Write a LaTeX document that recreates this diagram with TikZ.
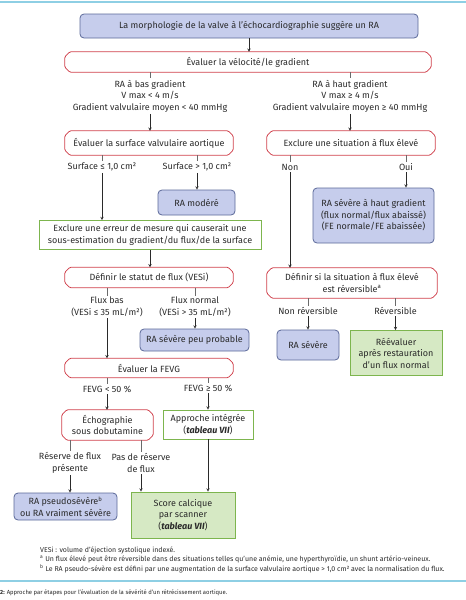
\documentclass[tikz,border=0pt]{standalone}
\usepackage{fontspec}
\setmainfont{Fira Sans}
\usepackage{tikz}

\definecolor{bluefill}{HTML}{C6CDEC}
\definecolor{blueline}{HTML}{5B6899}
\definecolor{redline}{HTML}{D0404B}
\definecolor{greenline}{HTML}{7DB54E}
\definecolor{greenfill}{HTML}{D6E9C4}
\definecolor{rulecol}{HTML}{8ECFE4}
\definecolor{ink}{HTML}{2A2A2A}

\newcommand\boxfont{\fontsize{9}{11.5}\selectfont}
\newcommand\notefont{\fontsize{7}{9}\selectfont}
\newcommand\captfont{\fontsize{5.9}{7}\selectfont}

% octagonal outline round a red node
\newcommand\chamfer[1]{%
  \draw[redline, line width=0.8pt, rounded corners=1.2pt]
    ([xshift=5pt]#1.north west) -- ([xshift=-5pt]#1.north east) -- ([yshift=-5pt]#1.north east)
    -- ([yshift=5pt]#1.south east) -- ([xshift=-5pt]#1.south east) -- ([xshift=5pt]#1.south west)
    -- ([yshift=5pt]#1.south west) -- ([yshift=-5pt]#1.north west) -- cycle;}

\tikzset{
  bluebox/.style={draw=blueline, fill=bluefill, rounded corners=4pt, line width=0.8pt, align=center, inner sep=0pt, font=\boxfont, text=ink},
  redbox/.style={fill=white, align=center, inner sep=0pt, font=\boxfont, text=ink},
  greenbox/.style={draw=greenline, fill=white, line width=0.8pt, align=center, inner sep=0pt, font=\boxfont, text=ink},
  greenfull/.style={greenbox, fill=greenfill},
  lbl/.style={align=center, inner sep=1.5pt, font=\boxfont, text=ink},
  note/.style={anchor=west, inner sep=0pt, font=\notefont, text=ink},
  arr/.style={-stealth, draw=ink, line width=0.5pt},
  tick/.style={draw=ink!70, line width=0.5pt},
}

\begin{document}
\begin{tikzpicture}[x=1pt,y=-1pt]
    \useasboundingbox (0,0) rectangle (466,600);
    \draw[rulecol, line width=1.2pt] (0,2) -- (466,2);
    \draw[rulecol, line width=1.2pt] (0,581) -- (466,581);

    % top of the chart
    \node[bluebox, minimum width=338pt, minimum height=24pt] (morph) at (249,26) {La morphologie de la valve à l’échocardiographie suggère un RA};
    \node[redbox, minimum width=366pt, minimum height=20pt] (velo) at (248,62) {Évaluer la vélocité/le gradient};
    \chamfer{velo}
    \node[lbl] (lowgrad) at (150,96) {RA à bas gradient\\V max < 4 m/s\\Gradient valvulaire moyen < 40 mmHg};
    \node[lbl] (highgrad) at (350,96) {RA à haut gradient\\V max ≥ 4 m/s\\Gradient valvulaire moyen ≥ 40 mmHg};

    % second row
    \node[redbox, minimum width=168pt, minimum height=24pt] (surf) at (149,143) {Évaluer la surface valvulaire aortique};
    \chamfer{surf}
    \node[redbox, minimum width=168pt, minimum height=24pt] (highflow) at (351,143) {Exclure une situation à flux élevé};
    \chamfer{highflow}
    \node[lbl] (surfle) at (102,167) {Surface ≤ 1,0 cm²};
    \node[lbl] (surfgt) at (197,167) {Surface > 1,0 cm²};
    \node[lbl] (non) at (290,167) {Non};
    \node[lbl] (oui) at (406,167) {Oui};
    \node[bluebox, minimum width=77pt, minimum height=25pt] (moder) at (196.5,202.5) {RA modéré};
    \node[bluebox, minimum width=121pt, minimum height=55pt] (sevhigh) at (373.5,215.5) {RA sévère à haut gradient\\(flux normal/flux abaissé)\\(FE normale/FE abaissée)};
    \node[greenbox, minimum width=222pt, minimum height=29pt] (error) at (150,235) {Exclure une erreur de mesure qui causerait une\\sous-estimation du gradient/du flux/de la surface};

    % flow status
    \node[redbox, minimum width=168pt, minimum height=20pt] (status) at (149,277.5) {Définir le statut de flux (VESi)};
    \chamfer{status}
    \node[redbox, minimum width=170pt, minimum height=30pt] (revers) at (352,283) {Définir si la situation à flux élevé\\est réversible\textsuperscript{a}};
    \chamfer{revers}
    \node[lbl] (lowflow) at (107,307) {Flux bas\\(VESi ≤ 35 mL/m²)};
    \node[lbl] (normflow) at (195,307) {Flux normal\\(VESi > 35 mL/m²)};
    \node[lbl] (nonrev) at (308,311) {Non réversible};
    \node[lbl] (rev) at (395.5,311) {Réversible};
    \node[bluebox, minimum width=109pt, minimum height=22pt] (unlikely) at (194.5,340) {RA sévère peu probable};
    \node[bluebox, minimum width=62pt, minimum height=30pt] (severe) at (308,345) {RA sévère};
    \node[greenfull, minimum width=92pt, minimum height=45pt] (reeval) at (396,353) {Réévaluer\\après restauration\\d’un flux normal};

    % LVEF
    \node[redbox, minimum width=168pt, minimum height=19pt] (fevg) at (149,368) {Évaluer la FEVG};
    \chamfer{fevg}
    \node[lbl] (fevglow) at (107,389) {FEVG < 50 \%};
    \node[lbl] (fevghigh) at (208,388) {FEVG ≥ 50 \%};
    \node[redbox, minimum width=91pt, minimum height=30pt] (dobut) at (107.5,425) {Échographie\\sous dobutamine};
    \chamfer{dobut}
    \node[greenbox, minimum width=90pt, minimum height=29pt] (integ) at (208,424.5) {Approche intégrée\\(\textbf{\textit{tableau VII}})};
    \node[lbl] (resyes) at (70,463) {Réserve de flux\\présente};
    \node[lbl] (resno) at (141,463) {Pas de réserve\\de flux};
    \node[bluebox, minimum width=103pt, minimum height=27pt] (pseudo) at (65.5,506.5) {RA pseudosévère\textsuperscript{b}\\ou RA vraiment sévère};
    \node[greenfull, minimum width=104pt, minimum height=46pt] (calc) at (183,515) {Score calcique\\par scanner\\(\textbf{\textit{tableau VII}})};

    % connectors
    \draw[arr] (morph.south) -- (morph.south |- velo.north);
    \draw[tick] (velo.south -| lowgrad) -- (lowgrad.north);
    \draw[tick] (velo.south -| highgrad) -- (highgrad.north);
    \draw[arr] (lowgrad.south) -- (lowgrad.south |- surf.north);
    \draw[arr] (highgrad.south) -- (highgrad.south |- highflow.north);
    \draw[tick] (surf.south -| surfle) -- (surfle.north);
    \draw[tick] (surf.south -| surfgt) -- (surfgt.north);
    \draw[tick] (highflow.south -| non) -- (non.north);
    \draw[tick] (highflow.south -| oui) -- (oui.north);
    \draw[arr] (surfle.south) -- (surfle.south |- error.north);
    \draw[arr] (surfgt.south) -- (surfgt.south |- moder.north);
    \draw[arr] (non.south) -- (non.south |- revers.north);
    \draw[arr] (oui.south) -- (oui.south |- sevhigh.north);
    \draw[arr] (error.south) -- (error.south |- status.north);
    \draw[tick] (status.south -| lowflow) -- (lowflow.north);
    \draw[tick] (status.south -| normflow) -- (normflow.north);
    \draw[arr] (lowflow.south) -- (lowflow.south |- fevg.north);
    \draw[arr] (normflow.south) -- (normflow.south |- unlikely.north);
    \draw[tick] (revers.south -| nonrev) -- (nonrev.north);
    \draw[tick] (revers.south -| rev) -- (rev.north);
    \draw[arr] (nonrev.south) -- (nonrev.south |- severe.north);
    \draw[arr] (rev.south) -- (rev.south |- reeval.north);
    \draw[tick] (fevg.south -| fevglow) -- (fevglow.north);
    \draw[tick] (fevg.south -| fevghigh) -- (fevghigh.north);
    \draw[arr] (fevglow.south) -- (fevglow.south |- dobut.north);
    \draw[arr] (fevghigh.south) -- (fevghigh.south |- integ.north);
    \draw[tick] (dobut.south -| resyes) -- (resyes.north);
    \draw[tick] (dobut.south -| resno) -- (resno.north);
    \draw[arr] (resyes.south) -- (resyes.south |- pseudo.north);
    \draw[arr] (resno.south) -- (resno.south |- calc.north);
    \draw[arr] (integ.south) -- (integ.south |- calc.north);

    % notes
    \node[note] (fnvesi) at (40,550) {VESi : volume d’éjection systolique indexé.};
    \node[note] (fna) at (40,559.5) {\textsuperscript{a} Un flux élevé peut être réversible dans des situations telles qu’une anémie, une hyperthyroïdie, un shunt artério-veineux.};
    \node[note] (fnb) at (40,568.5) {\textsuperscript{b} Le RA pseudo-sévère est défini par une augmentation de la surface valvulaire aortique > 1,0 cm² avec la normalisation du flux.};
    \node[note, font=\captfont] (capt) at (0,593) {\textbf{2:} Approche par étapes pour l’évaluation de la sévérité d’un rétrécissement aortique.};
\end{tikzpicture}
\end{document}
